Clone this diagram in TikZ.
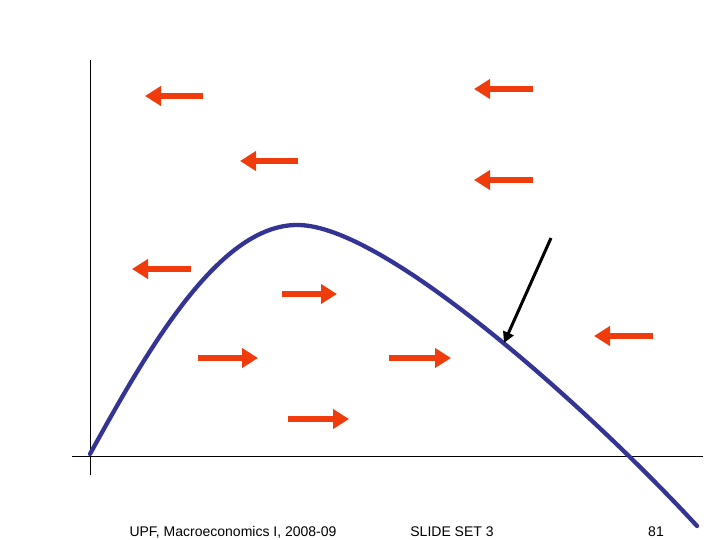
\documentclass[tikz,border=0pt]{standalone}
\usepackage{fontspec}
\setmainfont{Liberation Sans}
\usetikzlibrary{arrows.meta}
\definecolor{arrred}{HTML}{F03C0C}
\definecolor{curveblue}{HTML}{343494}
\tikzset{
  redarrow/.style={draw=arrred, line width=5.5pt, -{Triangle[length=16pt,width=19pt]}},
  axisline/.style={draw=black, line width=1pt},
  curveline/.style={draw=curveblue, line width=4.3pt, line cap=round},
  blackarrow/.style={draw=black, line width=3pt, -{Triangle[length=11pt,width=11pt]}},
  footer/.style={font=\fontsize{14pt}{16pt}\selectfont, inner sep=0pt}
}
\begin{document}
\begin{tikzpicture}[x=1pt,y=-1pt]
\useasboundingbox (0,0) rectangle (720,540);
% axes
\coordinate (ytop) at (90,60);
\coordinate (ybot) at (90,475);
\coordinate (xl) at (72,456);
\coordinate (xr) at (703,456);
\draw[axisline] (ytop) -- (ybot);
\draw[axisline] (xl) -- (xr);
% curve
\coordinate (c0) at (90,454);
\coordinate (cpeak) at (297,225);
\coordinate (cend) at (697,526);
\draw[curveline] (c0) .. controls (150,345) and (220,225) .. (cpeak)
  .. controls (385,224) and (595,415) .. (cend);
% red arrows
\foreach \n/\tx/\hx/\y in {1/203/145/96, 2/298/240/161, 3/533/474/89, 4/533/474/180, 5/191/132/269, 6/653/594/336, 7/282/337/294, 8/198/258/358, 9/389/451/358, 10/288/349/419} {
  \coordinate (t\n) at (\tx,\y);
  \coordinate (h\n) at (\hx,\y);
  \draw[redarrow] (t\n) -- (h\n);
}
% black arrow
\coordinate (bt) at (551,238);
\coordinate (bh) at (504,343);
\draw[blackarrow] (bt) -- (bh);
% footer
\node[footer] (f1) at (233,532) {UPF, Macroeconomics I, 2008-09};
\node[footer] (f2) at (452,532) {SLIDE SET 3};
\node[footer] (f3) at (656,532) {81};
\end{tikzpicture}
\end{document}
